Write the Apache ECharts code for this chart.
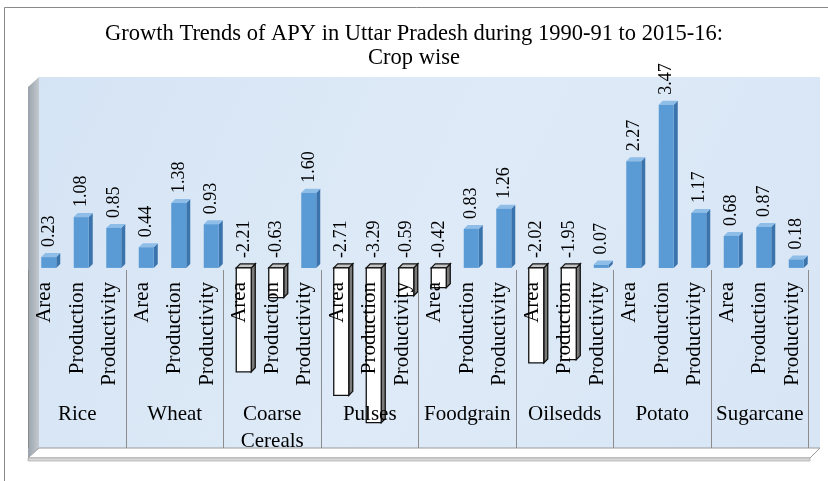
<!DOCTYPE html>
<html>
<head>
<meta charset="utf-8">
<script src="https://cdn.jsdelivr.net/npm/echarts@6/dist/echarts.min.js"></script>
<style>html,body{margin:0;padding:0;background:#fff}#c{width:828px;height:481px}</style>
</head>
<body>
<div id="c"></div>
<script>
const groups = ['Rice','Wheat','Coarse\nCereals','Pulses','Foodgrain','Oilsedds','Potato','Sugarcane'];
const measures = ['Area','Production','Productivity'];
const area = [0.23, 0.44, -2.21, -2.71, -0.42, -2.02, 2.27, 0.68];
const production = [1.08, 1.38, -0.63, -3.29, 0.83, -1.95, 3.47, 0.87];
const productivity = [0.85, 0.93, 1.60, -0.59, 1.26, 0.07, 1.17, 0.18];

const subLabels = [];
const data = [];
groups.forEach((g, i) => {
  [area[i], production[i], productivity[i]].forEach((v, j) => {
    subLabels.push(measures[j]);
    data.push([subLabels.length - 1, v]);
  });
});

const FONT = 'Liberation Serif';
const chart = echarts.init(document.getElementById('c'));

function renderItem(params, api) {
  const idx = api.value(0), v = api.value(1);
  const p0 = api.coord([idx, 0]);
  const p1 = api.coord([idx, v]);
  const w = 15, d = 4;
  const cx = p0[0];
  const x0 = cx - 8, x1 = x0 + w;
  const yTop = Math.min(p0[1], p1[1]), yBot = Math.max(p0[1], p1[1]);
  const neg = v < 0;
  const front = neg ? '#ffffff' : '#5b9bd5';
  const side = neg ? '#7a7a7a' : '#3b74ad';
  const topc = neg ? '#c4c4c4' : '#8ebde8';
  const stroke = neg ? '#111' : null;
  const lw = neg ? 1.3 : 0;
  return {
    type: 'group',
    children: [
      { type: 'polygon', shape: { points: [[x1, yTop], [x1 + d, yTop - d], [x1 + d, yBot - d], [x1, yBot]] },
        style: { fill: side, stroke: stroke, lineWidth: lw } },
      { type: 'polygon', shape: { points: [[x0, yTop], [x0 + d, yTop - d], [x1 + d, yTop - d], [x1, yTop]] },
        style: { fill: topc, stroke: stroke, lineWidth: lw } },
      { type: 'rect', shape: { x: x0, y: yTop, width: w, height: yBot - yTop },
        style: { fill: front, stroke: stroke, lineWidth: lw } },
      { type: 'text', x: cx, y: yTop - 10, rotation: Math.PI / 2,
        style: { text: v.toFixed(2), fill: '#000', fontFamily: FONT, fontSize: 18, align: 'left', verticalAlign: 'middle' } }
    ]
  };
}

const option = {
  animation: false,
  title: {
    text: 'Growth Trends of APY in Uttar Pradesh during 1990-91 to 2015-16:\nCrop wise',
    left: 'center', top: 17,
    textStyle: { fontFamily: FONT, fontWeight: 'normal', fontSize: 22.5, lineHeight: 24, color: '#000' }
  },
  graphic: [
    { type: 'rect', shape: { x: 4.5, y: 7.5, width: 900, height: 600 }, style: { fill: 'none', stroke: '#8a8a8a', lineWidth: 1 }, z: -10 },
    { type: 'rect', shape: { x: 39, y: 77, width: 781, height: 371 },
      style: { fill: { type: 'linear', x: 0, y: 0, x2: 1, y2: 1, colorStops: [{ offset: 0, color: '#d5e4f4' }, { offset: 0.5, color: '#deeaf7' }, { offset: 1, color: '#d7e5f5' }] } }, z: -9 },
    { type: 'polygon', shape: { points: [[28, 87], [39, 77], [39, 448], [28, 458]] },
      style: { fill: { type: 'linear', x: 0, y: 0, x2: 1, y2: 0, colorStops: [{ offset: 0, color: '#9aa3ac' }, { offset: 1, color: '#c3c9cf' }] } }, z: -9 },
    { type: 'polygon', shape: { points: [[28, 458], [39, 448], [820, 448], [810, 458]] },
      style: { fill: '#ffffff', stroke: '#9a9a9a', lineWidth: 1 }, z: -9 },
    { type: 'rect', shape: { x: 28, y: 458, width: 782, height: 3 }, style: { fill: '#d8d8d8', stroke: '#a0a0a0', lineWidth: 0.6 }, z: -9 }
  ],
  grid: [
    { left: 33, width: 780, top: 77, height: 371 },
    { left: 28.5, width: 780, top: 270, height: 178 },
    { left: 28.5, width: 780, top: 270, height: 178 }
  ],
  xAxis: [
    { gridIndex: 0, type: 'category', data: subLabels, show: false },
    { gridIndex: 1, type: 'category', data: groups, position: 'top', z: 10,
      axisLine: { show: false }, axisTick: { show: false },
      splitLine: { show: true, interval: 0, lineStyle: { color: '#8c8c8c', width: 1 } },
      axisLabel: { inside: true, interval: 0, margin: 131, verticalAlign: 'top', fontFamily: FONT, fontSize: 21, lineHeight: 27, color: '#000' } },
    { gridIndex: 2, type: 'category', data: subLabels, position: 'top', z: 10,
      axisLine: { show: false }, axisTick: { show: false }, splitLine: { show: false },
      axisLabel: { inside: true, margin: 12, rotate: 90, interval: 0, fontFamily: FONT, fontSize: 21, color: '#000' } }
  ],
  yAxis: [
    { gridIndex: 0, type: 'value', min: -3.83, max: 4.06, show: false },
    { gridIndex: 1, type: 'value', show: false },
    { gridIndex: 2, type: 'value', show: false }
  ],
  series: [
    { type: 'custom', xAxisIndex: 0, yAxisIndex: 0, renderItem: renderItem, data: data, z: 2, clip: false }
  ]
};
chart.setOption(option);
</script>
</body>
</html>
